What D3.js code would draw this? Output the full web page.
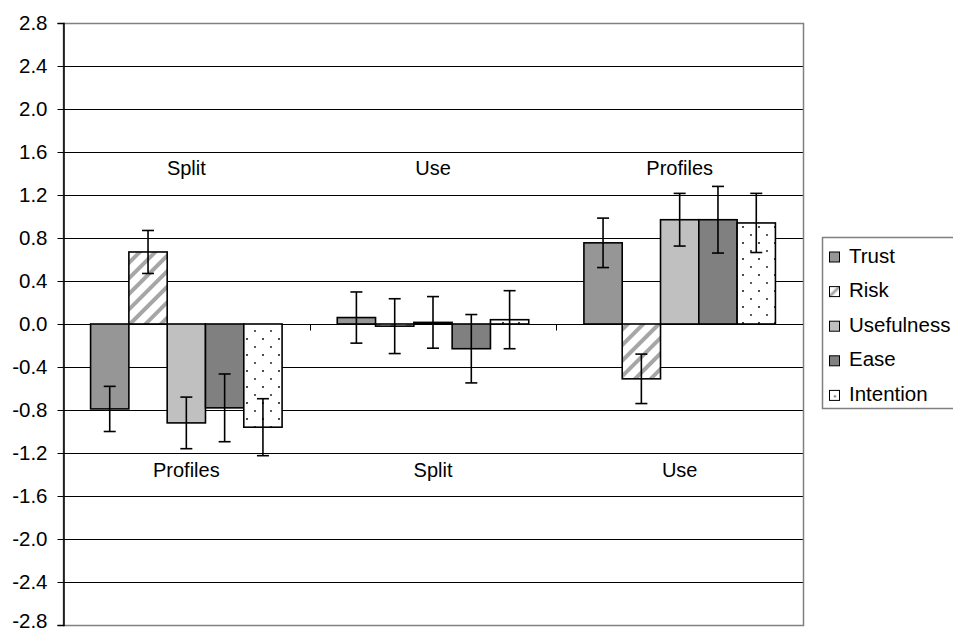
<!DOCTYPE html>
<html>
<head>
<meta charset="utf-8">
<script src="https://cdn.jsdelivr.net/npm/d3@7"></script>
<style>
  html, body { margin: 0; padding: 0; background: #fff; }
  svg { display: block; font-family: "Liberation Sans", Arial, sans-serif; }
</style>
</head>
<body>
<svg id="chart" width="953" height="633"></svg>
<script>
// Groups along the x axis, with the label printed above and below each group
const groups = ["g1", "g2", "g3"];
const upperLabels = ["Split", "Use", "Profiles"];
const lowerLabels = ["Profiles", "Split", "Use"];

const series = ["Trust", "Risk", "Usefulness", "Ease", "Intention"];

// Mean scores per group (one array per series)
const trust      = [-0.79,  0.06,  0.755];
const risk       = [ 0.67, -0.02, -0.51];
const usefulness = [-0.92,  0.015, 0.97];
const ease       = [-0.78, -0.23,  0.97];
const intention  = [-0.96,  0.04,  0.94];

// Half-width of each error bar
const trustErr      = [0.21, 0.238, 0.23];
const riskErr       = [0.20, 0.255, 0.23];
const usefulnessErr = [0.24, 0.24,  0.245];
const easeErr       = [0.315, 0.318, 0.31];
const intentionErr  = [0.265, 0.27, 0.275];

const yTicks = [2.8, 2.4, 2.0, 1.6, 1.2, 0.8, 0.4, 0.0, -0.4, -0.8, -1.2, -1.6, -2.0, -2.4, -2.8];

const values = [trust, risk, usefulness, ease, intention];
const errors = [trustErr, riskErr, usefulnessErr, easeErr, intentionErr];

const svg = d3.select("#chart");
const plot = { left: 63, right: 803, top: 23, bottom: 625 };

const y = d3.scaleLinear().domain([-2.8, 2.8]).range([plot.bottom, plot.top]);
const x0 = d3.scaleBand().domain(groups).range([plot.left, plot.right]).padding(0);
const x1 = d3.scaleBand().domain(series).range([0, x0.bandwidth()])
  .paddingInner(0).paddingOuter(0.72);

// Fill patterns for the hatched and dotted series
const defs = svg.append("defs");
const hatch = defs.append("pattern").attr("id", "hatch")
  .attr("patternUnits", "userSpaceOnUse").attr("width", 11).attr("height", 11)
  .attr("patternTransform", "rotate(45)");
hatch.append("rect").attr("width", 11).attr("height", 11).attr("fill", "#fff");
hatch.append("rect").attr("x", 0).attr("y", 0).attr("width", 4).attr("height", 11).attr("fill", "#a6a6a6");

const dots = defs.append("pattern").attr("id", "dots")
  .attr("patternUnits", "userSpaceOnUse").attr("width", 16).attr("height", 16)
  .attr("x", 6).attr("y", 2);
dots.append("rect").attr("width", 16).attr("height", 16).attr("fill", "#fff");
dots.append("circle").attr("cx", 1).attr("cy", 1).attr("r", 1.1).attr("fill", "#333");
dots.append("circle").attr("cx", 9).attr("cy", 9).attr("r", 1.1).attr("fill", "#333");

const legendDot = defs.append("pattern").attr("id", "legendDot")
  .attr("patternUnits", "objectBoundingBox").attr("width", 1).attr("height", 1);
legendDot.append("rect").attr("width", 11).attr("height", 11).attr("fill", "#fff");
legendDot.append("circle").attr("cx", 5.5).attr("cy", 6).attr("r", 1).attr("fill", "#333");

const legendHatch = defs.append("linearGradient").attr("id", "legendHatch")
  .attr("x1", 0).attr("y1", 0).attr("x2", 1).attr("y2", 1);
legendHatch.append("stop").attr("offset", "0%").attr("stop-color", "#fff");
legendHatch.append("stop").attr("offset", "32%").attr("stop-color", "#fff");
legendHatch.append("stop").attr("offset", "50%").attr("stop-color", "#9a9a9a");
legendHatch.append("stop").attr("offset", "68%").attr("stop-color", "#fff");
legendHatch.append("stop").attr("offset", "100%").attr("stop-color", "#fff");

const fills = {
  Trust: "#969696",
  Risk: "url(#hatch)",
  Usefulness: "#c0c0c0",
  Ease: "#808080",
  Intention: "url(#dots)"
};
const legendFills = {
  Trust: "#969696",
  Risk: "url(#legendHatch)",
  Usefulness: "#c0c0c0",
  Ease: "#808080",
  Intention: "url(#legendDot)"
};

// Horizontal gridlines
svg.append("g").selectAll("line")
  .data(yTicks.filter(t => t !== 2.8 && t !== -2.8))
  .join("line")
  .attr("x1", plot.left).attr("x2", plot.right)
  .attr("y1", d => Math.round(y(d)) + 0.5).attr("y2", d => Math.round(y(d)) + 0.5)
  .attr("stroke", "#000").attr("stroke-width", 1);

// Plot area border
svg.append("rect")
  .attr("x", plot.left + 0.5).attr("y", Math.round(y(2.8)) + 0.5)
  .attr("width", plot.right - plot.left).attr("height", Math.round(y(-2.8)) - Math.round(y(2.8)))
  .attr("fill", "none").attr("stroke", "#808080").attr("stroke-width", 1.5);

// Y axis, labels with a plain hyphen for negatives
const fmt = d3.format(".1f");
const yAxis = d3.axisLeft(y).tickValues(yTicks)
  .tickFormat(d => fmt(d).replace("\u2212", "-"))
  .tickSize(6).tickPadding(10);
const yG = svg.append("g").attr("transform", `translate(${plot.left + 0.5},0)`).call(yAxis);
yG.select(".domain").attr("stroke", "#000").attr("stroke-width", 1.5);
yG.selectAll(".tick line").attr("stroke", "#000");
yG.selectAll(".tick text").attr("font-size", 20.5).attr("fill", "#000")
  .attr("font-family", "Liberation Sans, Arial, sans-serif");
// keep the lowest label inside the page
yG.selectAll(".tick text").filter(d => d === -2.8).attr("dy", "0.12em");

// Category axis along zero with boundary ticks
const zeroY = Math.round(y(0)) + 0.5;
svg.append("line").attr("x1", plot.left).attr("x2", plot.right)
  .attr("y1", zeroY).attr("y2", zeroY).attr("stroke", "#000").attr("stroke-width", 1);
const bounds = groups.map(g => x0(g)).concat([x0(groups[groups.length - 1]) + x0.bandwidth()]);
svg.append("g").selectAll("line").data(bounds.slice(1, -1)).join("line")
  .attr("x1", d => Math.round(d) + 0.5).attr("x2", d => Math.round(d) + 0.5)
  .attr("y1", zeroY).attr("y2", zeroY + 6).attr("stroke", "#000");

// Bars
const rows = [];
groups.forEach((g, gi) => {
  series.forEach((s, si) => {
    rows.push({ group: g, series: s, value: values[si][gi], err: errors[si][gi] });
  });
});

const barG = svg.append("g");
barG.selectAll("rect").data(rows).join("rect")
  .attr("x", d => x0(d.group) + x1(d.series))
  .attr("width", x1.bandwidth())
  .attr("y", d => y(Math.max(0, d.value)))
  .attr("height", d => Math.abs(y(d.value) - y(0)))
  .attr("fill", d => fills[d.series])
  .attr("stroke", "#000").attr("stroke-width", 1.6);

// Error bars
const errG = svg.append("g").attr("stroke", "#000").attr("stroke-width", 1.6);
rows.forEach(d => {
  const cx = x0(d.group) + x1(d.series) + x1.bandwidth() / 2;
  const hi = y(d.value + d.err), lo = y(d.value - d.err);
  errG.append("line").attr("x1", cx).attr("x2", cx).attr("y1", hi).attr("y2", lo);
  errG.append("line").attr("x1", cx - 6).attr("x2", cx + 6).attr("y1", hi).attr("y2", hi);
  errG.append("line").attr("x1", cx - 6).attr("x2", cx + 6).attr("y1", lo).attr("y2", lo);
});

// Group labels above and below the bars
const labelG = svg.append("g").attr("font-size", 20).attr("fill", "#000").attr("text-anchor", "middle");
labelG.selectAll("text.up").data(groups).join("text").attr("class", "up")
  .attr("x", g => x0(g) + x0.bandwidth() / 2)
  .attr("y", y(1.6) + 23)
  .text((g, i) => upperLabels[i]);
labelG.selectAll("text.down").data(groups).join("text").attr("class", "down")
  .attr("x", g => x0(g) + x0.bandwidth() / 2)
  .attr("y", y(-1.2) + 24)
  .text((g, i) => lowerLabels[i]);

// Legend
const legend = svg.append("g").attr("transform", "translate(822,237)");
legend.append("rect").attr("x", 0.5).attr("y", 0.5).attr("width", 160).attr("height", 171)
  .attr("fill", "#fff").attr("stroke", "#808080").attr("stroke-width", 1.5);
const item = legend.selectAll("g.item").data(series).join("g").attr("class", "item")
  .attr("transform", (d, i) => `translate(0,${25.5 + i * 34.6})`);
item.append("rect").attr("x", 7.5).attr("y", -10.5).attr("width", 10).attr("height", 10)
  .attr("fill", d => legendFills[d]).attr("stroke", "#000").attr("stroke-width", 1);
item.append("text").attr("x", 27).attr("y", 0).attr("font-size", 20.5).attr("fill", "#000").text(d => d);
</script>
</body>
</html>
